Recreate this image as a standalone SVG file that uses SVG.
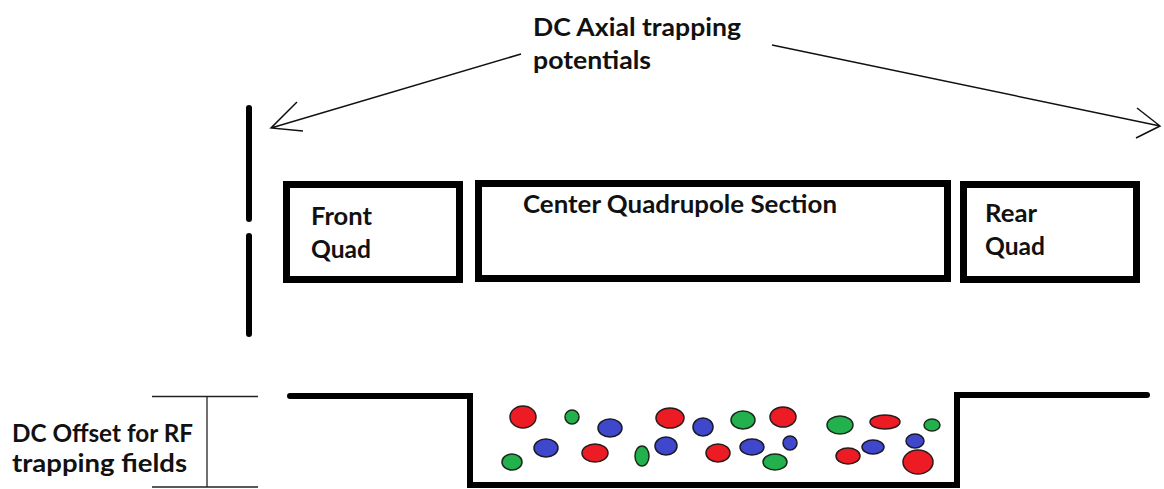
<svg xmlns="http://www.w3.org/2000/svg" width="1164" height="489" viewBox="0 0 1164 489">
<style>
.t{font-family:Lato,"Liberation Sans",sans-serif;font-weight:bold;font-size:24px;fill:#111}
.box{fill:none;stroke:#000;stroke-width:7}
.thin{stroke:#222;stroke-width:1.3;fill:none}
.wall{stroke:#000;stroke-width:6;fill:none;stroke-linecap:round}
.r{fill:#ed1c24;stroke:#2a1a1a;stroke-width:1.5}
.g{fill:#22b14c;stroke:#1a2a1a;stroke-width:1.5}
.b{fill:#3f48cc;stroke:#1a1a2a;stroke-width:1.5}
</style>
<rect width="1164" height="489" fill="#fff"/>
<g id="label-dc-axial">
<text class="t" x="533" y="36" textLength="208" lengthAdjust="spacingAndGlyphs">DC Axial trapping</text>
<text class="t" x="533" y="69" textLength="118" lengthAdjust="spacingAndGlyphs">potentials</text>
</g>
<g id="connectors" fill="none" stroke="#111" stroke-width="1.5">
<path d="M521,54 L271,128 M297,102 L271,128 L303,131"/>
<path d="M772,45 L1160,126 M1137,108 L1160,126 L1136,138"/>
</g>
<g id="entrance-electrode">
<line class="wall" x1="249" y1="108" x2="249" y2="219"/>
<line class="wall" x1="249" y1="236" x2="249" y2="334"/>
</g>
<g id="front-quad">
<rect class="box" x="286.5" y="184.5" width="173" height="95"/>
<text class="t" x="311" y="225" textLength="61" lengthAdjust="spacingAndGlyphs">Front</text>
<text class="t" x="311" y="258" textLength="60" lengthAdjust="spacingAndGlyphs">Quad</text>
</g>
<g id="center-quad">
<rect class="box" x="478.5" y="183.5" width="469" height="95"/>
<text class="t" x="523" y="213" textLength="314" lengthAdjust="spacingAndGlyphs">Center Quadrupole Section</text>
</g>
<g id="rear-quad">
<rect class="box" x="963.5" y="184.5" width="173" height="95"/>
<text class="t" x="985" y="222" textLength="52" lengthAdjust="spacingAndGlyphs">Rear</text>
<text class="t" x="985" y="255" textLength="60" lengthAdjust="spacingAndGlyphs">Quad</text>
</g>
<g id="dc-offset">
<text class="t" x="12" y="442" textLength="181" lengthAdjust="spacingAndGlyphs">DC Offset for RF</text>
<text class="t" x="12" y="472" textLength="175" lengthAdjust="spacingAndGlyphs">trapping fields</text>
<line class="thin" x1="152" y1="396.5" x2="258" y2="396.5"/>
<line class="thin" x1="152" y1="487" x2="258" y2="487"/>
<line class="thin" x1="207" y1="396.5" x2="207" y2="487"/>
</g>
<g id="potential-well">
<path d="M290,396 H470 V485 H957 V395 H1147" fill="none" stroke="#000" stroke-width="6" stroke-linecap="round" stroke-linejoin="miter"/>
</g>
<g id="ions">
<ellipse class="r" cx="523" cy="417" rx="13" ry="11"/>
<ellipse class="r" cx="670" cy="418" rx="14" ry="10"/>
<ellipse class="r" cx="783" cy="417" rx="13" ry="10"/>
<ellipse class="r" cx="595" cy="453" rx="13" ry="9"/>
<ellipse class="r" cx="718" cy="453" rx="12" ry="9"/>
<ellipse class="r" cx="885" cy="422" rx="15" ry="7"/>
<ellipse class="r" cx="848" cy="456" rx="12" ry="8"/>
<ellipse class="r" cx="918" cy="462" rx="15" ry="12"/>
<ellipse class="g" cx="572" cy="417" rx="7" ry="7"/>
<ellipse class="g" cx="512" cy="462" rx="10" ry="8"/>
<ellipse class="g" cx="642" cy="456" rx="7" ry="10"/>
<ellipse class="g" cx="743" cy="420" rx="12" ry="9"/>
<ellipse class="g" cx="775" cy="462" rx="12" ry="8"/>
<ellipse class="g" cx="840" cy="425" rx="13" ry="9"/>
<ellipse class="g" cx="932" cy="425" rx="8" ry="6"/>
<ellipse class="b" cx="610" cy="428" rx="12" ry="9"/>
<ellipse class="b" cx="546" cy="448" rx="12" ry="9"/>
<ellipse class="b" cx="703" cy="427" rx="10" ry="9"/>
<ellipse class="b" cx="666" cy="446" rx="11" ry="9"/>
<ellipse class="b" cx="752" cy="447" rx="12" ry="8"/>
<ellipse class="b" cx="790" cy="443" rx="7" ry="7"/>
<ellipse class="b" cx="873" cy="447" rx="11" ry="7"/>
<ellipse class="b" cx="915" cy="441" rx="9" ry="7"/>
</g>
</svg>
